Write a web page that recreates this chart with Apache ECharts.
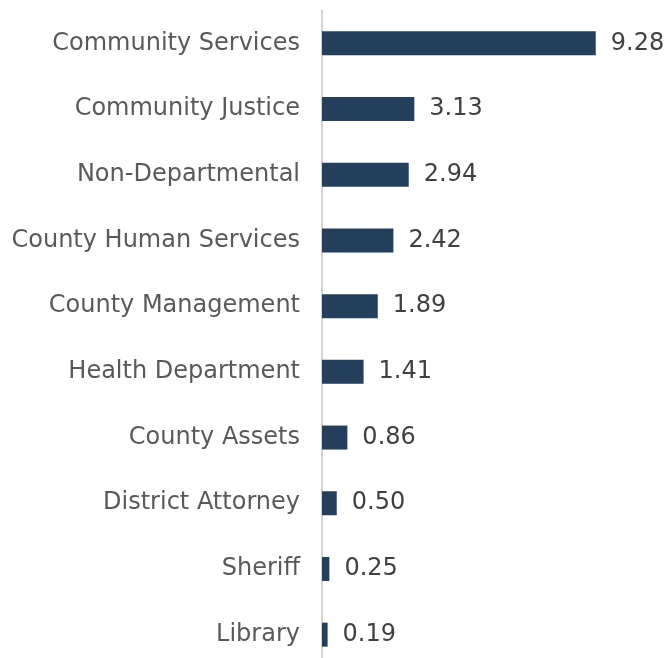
<!DOCTYPE html>
<html>
<head>
<meta charset="utf-8">
<script src="https://cdn.jsdelivr.net/npm/echarts@6/dist/echarts.min.js"></script>
<style>
  html, body { margin: 0; padding: 0; background: #fff; }
  #chart { width: 668px; height: 658px; }
</style>
</head>
<body>
<div id="chart"></div>
<script>
// departments, top to bottom
const departments = [
  "Community Services",
  "Community Justice",
  "Non-Departmental",
  "County Human Services",
  "County Management",
  "Health Department",
  "County Assets",
  "District Attorney",
  "Sheriff",
  "Library"
];
const values = [9.28, 3.13, 2.94, 2.42, 1.89, 1.41, 0.86, 0.50, 0.25, 0.19];

const chart = echarts.init(document.getElementById("chart"));

const option = {
  animation: false,
  grid: {
    left: 322,
    top: 10.5,
    width: 295,
    height: 657,
    outerBoundsMode: "none"
  },
  xAxis: {
    type: "value",
    min: 0,
    max: 10,
    show: false
  },
  yAxis: {
    type: "category",
    data: departments,
    inverse: true,
    axisLine: { show: true, lineStyle: { color: "#d4d4d4", width: 2 } },
    axisTick: { show: false },
    axisLabel: {
      margin: 22,
      color: "#595959",
      fontSize: 24,
      fontFamily: "DejaVu Sans"
    }
  },
  series: [
    {
      type: "bar",
      data: values,
      barWidth: 24,
      itemStyle: { color: "#243f5c" },
      label: {
        show: true,
        position: "right",
        distance: 15,
        color: "#404040",
        fontSize: 24,
        fontFamily: "DejaVu Sans",
        formatter: function (p) {
          return p.value.toFixed(2);
        }
      }
    }
  ]
};

chart.setOption(option);
</script>
</body>
</html>
